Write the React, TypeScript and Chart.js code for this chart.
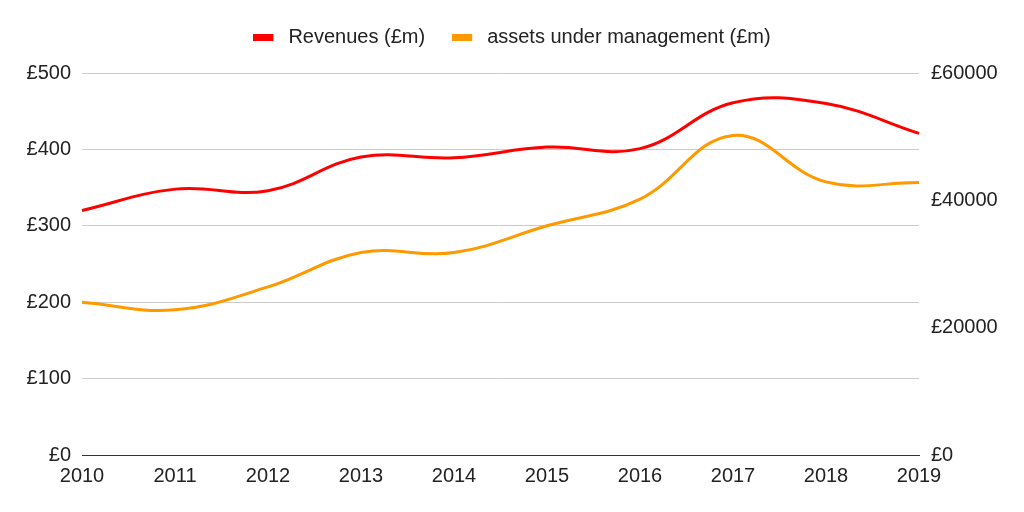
import React, { useEffect, useRef } from "react";
import { Chart, registerables } from "chart.js";

Chart.register(...registerables);

const years = ["2010", "2011", "2012", "2013", "2014", "2015", "2016", "2017", "2018", "2019"];
const revenues = [320, 348, 346, 390, 389, 403, 401, 461, 460, 421];
const assets = [24000, 22800, 26400, 31800, 31800, 36000, 40200, 50200, 42900, 42800];
const leftTicks = [0, 100, 200, 300, 400, 500];
const rightTicks = [0, 20000, 40000, 60000];

const FONT = "'Liberation Sans', Arial, sans-serif";

function legendSwatch(color: string): HTMLCanvasElement {
  const c = document.createElement("canvas");
  c.width = 25;
  c.height = 7;
  const ctx = c.getContext("2d")!;
  ctx.fillStyle = color;
  ctx.fillRect(0, 0, 20, 7);
  return c;
}

const legendHeightPlugin = {
  id: "legendHeight",
  afterInit(chart: any) {
    const legend = chart.legend;
    if (!legend) return;
    const orig = legend.fit;
    legend.fit = function () {
      orig.call(this);
      this.height = 73;
    };
  },
};

export default function App() {
  const ref = useRef<HTMLCanvasElement | null>(null);

  useEffect(() => {
    if (!ref.current) return;
    const chart = new Chart(ref.current, {
      type: "line",
      data: {
        labels: years,
        datasets: [
          {
            label: "Revenues (£m)",
            data: revenues,
            borderColor: "#ff0000",
            backgroundColor: "#ff0000",
            borderWidth: 3,
            pointRadius: 0,
            pointStyle: legendSwatch("#ff0000") as any,
            tension: 0.4,
            yAxisID: "y",
          },
          {
            label: "assets under management (£m)",
            data: assets,
            borderColor: "#ff9900",
            backgroundColor: "#ff9900",
            borderWidth: 3,
            pointRadius: 0,
            pointStyle: legendSwatch("#ff9900") as any,
            tension: 0.4,
            yAxisID: "y1",
          },
        ],
      },
      plugins: [legendHeightPlugin],
      options: {
        responsive: false,
        animation: false,
        events: [],
        layout: { padding: 0 },
        plugins: {
          tooltip: { enabled: false },
          legend: {
            position: "top",
            align: "center",
            labels: {
              usePointStyle: true,
              pointStyleWidth: 25,
              boxHeight: 7,
              padding: 27,
              color: "#222222",
              font: { family: FONT, size: 20 },
            },
          } as any,
        },
        scales: {
          x: {
            type: "category",
            offset: false,
            grid: { display: false, drawTicks: false },
            border: { display: true, color: "#333333", width: 1 },
            ticks: {
              color: "#222222",
              font: { family: FONT, size: 20 },
              padding: 9,
              maxRotation: 0,
              autoSkip: false,
            },
            afterFit: (s: any) => {
              s.height = 57;
            },
          },
          y: {
            position: "left",
            min: leftTicks[0],
            max: leftTicks[leftTicks.length - 1],
            afterBuildTicks: (s: any) => {
              s.ticks = leftTicks.map((v) => ({ value: v }));
            },
            grid: {
              drawTicks: false,
              color: (ctx: any) => (ctx.tick && ctx.tick.value === 0 ? "#333333" : "#cccccc"),
              lineWidth: 1,
            },
            border: { display: false },
            ticks: {
              color: "#222222",
              font: { family: FONT, size: 20 },
              padding: 11,
              callback: (v: any) => "£" + v,
            },
            afterFit: (s: any) => {
              s.width = 82;
            },
          },
          y1: {
            position: "right",
            min: rightTicks[0],
            max: rightTicks[rightTicks.length - 1],
            afterBuildTicks: (s: any) => {
              s.ticks = rightTicks.map((v) => ({ value: v }));
            },
            grid: { display: false, drawTicks: false },
            border: { display: false },
            ticks: {
              color: "#222222",
              font: { family: FONT, size: 20 },
              padding: 12,
              callback: (v: any) => "£" + v,
            },
            afterFit: (s: any) => {
              s.width = 105;
            },
          },
        },
      },
    });
    return () => chart.destroy();
  }, []);

  return (
    <div style={{ position: "fixed", left: 0, top: 0, width: 1024, height: 512, background: "#ffffff" }}>
      <canvas ref={ref} width={1024} height={512} style={{ display: "block" }} />
    </div>
  );
}
